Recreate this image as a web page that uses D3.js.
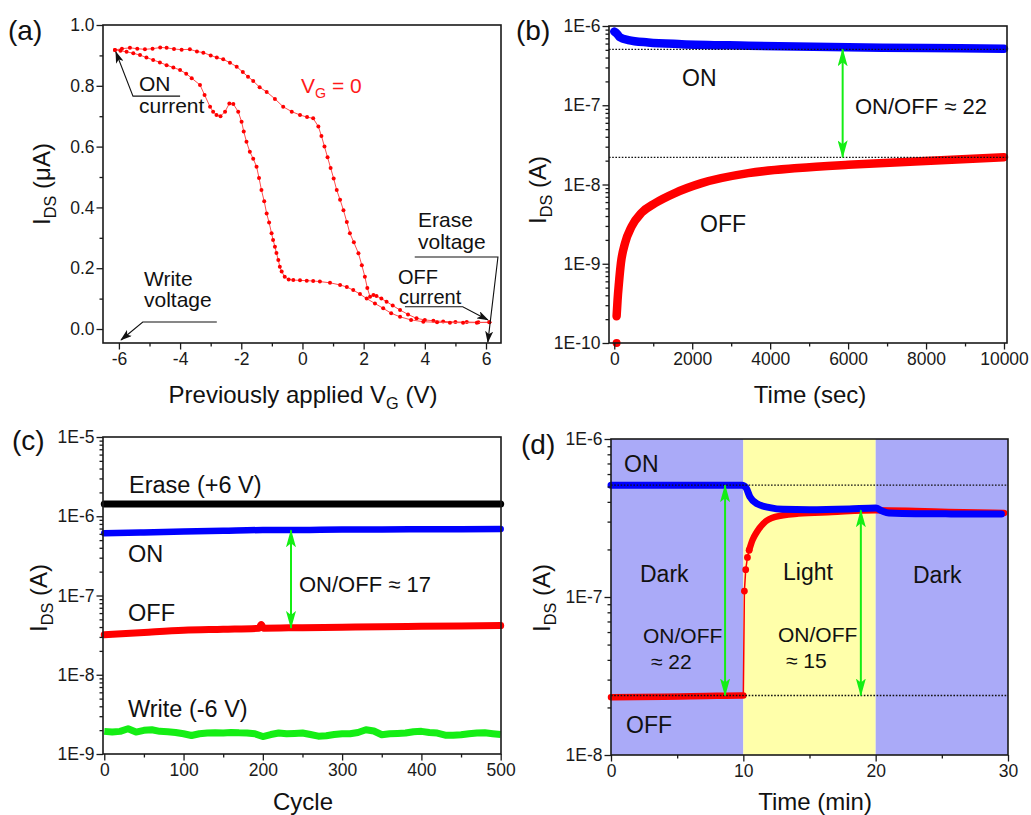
<!DOCTYPE html>
<html>
<head>
<meta charset="utf-8">
<script src="https://cdn.jsdelivr.net/npm/d3@7"></script>
<style>
  body { margin: 0; background: #fff; }
  svg text { font-family: "Liberation Sans", Arial, Helvetica, sans-serif; }
</style>
</head>
<body>
<div id="chart"></div>
<script>
// ---------- (a) hysteresis: previously applied V_G (V) vs I_DS (uA) ----------
const upV = [-6.13, -5.9, -5.64, -5.4, -5.15, -4.9, -4.65, -4.44, -4.2, -3.95, -3.68, -3.45, -3.24, -3.0, -2.8,
  -2.59, -2.37, -2.15, -1.95, -1.78, -1.61, -1.4, -1.17, -0.9, -0.63, -0.35, -0.08, 0.15, 0.35, 0.52, 0.62,
  0.72, 0.82, 0.92, 1.02, 1.12, 1.23, 1.34, 1.45, 1.55, 1.68, 1.83, 1.94, 2.04, 2.12, 2.21, 2.32, 2.42, 2.58,
  2.75, 2.95, 3.19, 3.45, 3.73, 4.0, 4.28, 4.6, 5.0, 5.37, 5.75, 6.11];
const upI = [0.918, 0.922, 0.925, 0.922, 0.920, 0.922, 0.926, 0.925, 0.921, 0.919, 0.920, 0.913, 0.909, 0.900, 0.893,
  0.887, 0.876, 0.863, 0.845, 0.830, 0.816, 0.795, 0.780, 0.757, 0.731, 0.715, 0.704, 0.697, 0.693, 0.666, 0.635,
  0.600, 0.565, 0.530, 0.495, 0.457, 0.425, 0.391, 0.352, 0.315, 0.285, 0.249, 0.210, 0.172, 0.135, 0.106, 0.112,
  0.109, 0.100, 0.090, 0.077, 0.0625, 0.048, 0.035, 0.030, 0.027, 0.025, 0.023, 0.023, 0.022, 0.022];
const downV = [6.11, 5.7, 5.25, 4.82, 4.4, 3.95, 3.55, 3.19, 2.9, 2.64, 2.37, 2.1, 1.88, 1.66, 1.45, 1.23, 0.9,
  0.57, 0.35, 0.14, -0.08, -0.3, -0.45, -0.58, -0.68, -0.74, -0.79, -0.85, -0.9, -0.96, -1.01, -1.09, -1.17,
  -1.25, -1.34, -1.42, -1.5, -1.61, -1.72, -1.83, -1.92, -1.99, -2.1, -2.26, -2.39, -2.53, -2.68, -2.81, -2.92,
  -3.02, -3.2, -3.35, -3.62, -3.8, -4.0, -4.22, -4.44, -4.66, -4.88, -5.1, -5.31, -5.53, -5.75, -5.95, -6.13];
const downI = [0.022, 0.021, 0.021, 0.021, 0.022, 0.024, 0.030, 0.040, 0.052, 0.068, 0.084, 0.100, 0.115, 0.128,
  0.138, 0.145, 0.152, 0.156, 0.158, 0.159, 0.160, 0.161, 0.163, 0.172, 0.189, 0.205, 0.227, 0.250, 0.271, 0.293,
  0.315, 0.350, 0.380, 0.420, 0.457, 0.497, 0.534, 0.560, 0.583, 0.616, 0.650, 0.682, 0.715, 0.740, 0.742, 0.715,
  0.700, 0.704, 0.715, 0.731, 0.770, 0.803, 0.825, 0.840, 0.852, 0.860, 0.868, 0.877, 0.885, 0.893, 0.901, 0.907,
  0.912, 0.915, 0.918];

// ---------- (b) retention: time (s) vs I_DS (A) ----------
const bOnTime = [0, 60, 145, 360, 870, 1730, 3440, 6000, 8000, 10000];
const bOnI = [8.5e-7, 8.1e-7, 7.2e-7, 6.65e-7, 6.2e-7, 5.9e-7, 5.65e-7, 5.38e-7, 5.27e-7, 5.18e-7];
const bOffTime = [60, 85, 120, 171, 274, 445, 700, 1044, 1557, 2241, 3439, 4722, 6005, 7716, 10000];
const bOffI = [2.17e-10, 3.5e-10, 5.7e-10, 1.02e-9, 1.8e-9, 2.95e-9, 4.4e-9, 5.8e-9, 7.8e-9, 1.04e-8, 1.39e-8,
  1.61e-8, 1.77e-8, 1.95e-8, 2.21e-8];
const bOffFirst = [60, 1e-10];
const bLevels = [5.08e-7, 2.2e-8];
const bArrowTime = 5860;

// ---------- (c) endurance: cycle vs I_DS (A) ----------
const cEraseCycle = [0, 500];
const cEraseI = [1.43e-6, 1.43e-6];
const cOnCycle = [0, 50, 100, 150, 200, 250, 300, 350, 400, 450, 500];
const cOnI = [6.1e-7, 6.25e-7, 6.4e-7, 6.55e-7, 6.7e-7, 6.72e-7, 6.8e-7, 6.8e-7, 6.85e-7, 6.87e-7, 6.9e-7];
const cOffCycle = [0, 50, 100, 150, 195, 198, 201, 250, 300, 350, 400, 450, 500];
const cOffI = [3.2e-8, 3.42e-8, 3.64e-8, 3.75e-8, 3.86e-8, 4.3e-8, 3.87e-8, 3.93e-8, 3.98e-8, 4.03e-8, 4.09e-8,
  4.13e-8, 4.17e-8];
const cWriteCycle = [0, 10, 20, 30, 40, 50, 60, 70, 80, 90, 100, 110, 120, 130, 140, 150, 160, 170, 180, 190, 200,
  210, 220, 230, 240, 250, 260, 270, 280, 290, 300, 310, 320, 330, 340, 350, 360, 370, 380, 390, 400, 410, 420,
  430, 440, 450, 460, 470, 480, 490, 500];
const cWriteI = [1.93, 1.89, 1.93, 2.08, 1.89, 1.99, 2.02, 1.93, 1.91, 1.87, 1.80, 1.71, 1.80, 1.84, 1.85, 1.84,
  1.87, 1.85, 1.84, 1.80, 1.66, 1.76, 1.84, 1.80, 1.82, 1.84, 1.76, 1.68, 1.70, 1.76, 1.80, 1.80, 1.87, 2.02,
  1.95, 1.75, 1.80, 1.82, 1.84, 1.91, 1.93, 1.87, 1.84, 1.73, 1.73, 1.75, 1.80, 1.84, 1.85, 1.80, 1.76]; // x 1e-9
const cArrow = [235.5, 6.65e-7, 3.9e-8];

// ---------- (d) dark / light: time (min) vs I_DS (A) ----------
const dOnTime = [0, 2, 4, 6, 8, 9.9, 10.2, 10.5, 11, 12, 13, 15, 18, 20, 20.5, 21, 23, 25, 27, 29.5];
const dOnI = [5.09e-7, 5.09e-7, 5.09e-7, 5.1e-7, 5.1e-7, 5.1e-7, 4.92e-7, 4.3e-7, 3.9e-7, 3.68e-7, 3.59e-7,
  3.57e-7, 3.61e-7, 3.66e-7, 3.5e-7, 3.4e-7, 3.36e-7, 3.36e-7, 3.35e-7, 3.35e-7];
const dOffTime = [0, 2, 4, 6, 8, 9.9, 10.0, 10.08, 10.18, 10.31, 10.44, 10.69, 11.02, 11.52, 12.4, 14.17, 16.7,
  19.97, 23, 25.5, 29.7];
const dOffI = [2.32e-8, 2.33e-8, 2.34e-8, 2.35e-8, 2.37e-8, 2.38e-8, 2.38e-8, 1.09e-7, 1.49e-7, 1.78e-7, 1.98e-7,
  2.29e-7, 2.58e-7, 2.92e-7, 3.21e-7, 3.37e-7, 3.45e-7, 3.54e-7, 3.5e-7, 3.45e-7, 3.4e-7];
const dBandStart = [0, 10, 20];
const dBandEnd = [10, 20, 30];
const dBandKind = ["Dark", "Light", "Dark"];
const dLevels = [5.1e-7, 2.38e-8];
const dArrows = [[8.62, 5.1e-7, 2.38e-8], [18.88, 3.54e-7, 2.38e-8]];

// ---------- layout ----------
const svg = d3.select("#chart").append("svg")
    .attr("width", 1031)
    .attr("height", 815);

const GREEN = "#14ee14";
const defs = svg.append("defs");
defs.append("marker")
    .attr("id", "gHead").attr("viewBox", "0 0 18 10").attr("refX", 17).attr("refY", 5)
    .attr("markerWidth", 18).attr("markerHeight", 10).attr("markerUnits", "userSpaceOnUse")
    .attr("orient", "auto-start-reverse")
    .append("path").attr("d", "M0,0 L18,5 L0,10 L4,5 Z").attr("fill", GREEN);
defs.append("marker")
    .attr("id", "kHead").attr("viewBox", "0 0 12 8").attr("refX", 11).attr("refY", 4)
    .attr("markerWidth", 12).attr("markerHeight", 8).attr("markerUnits", "userSpaceOnUse")
    .attr("orient", "auto")
    .append("path").attr("d", "M0,0 L12,4 L0,8 L3,4 Z").attr("fill", "#111");

const boxA = { l: 103, r: 501, t: 25, b: 343 };
const boxB = { l: 609, r: 1007, t: 26, b: 343 };
const boxC = { l: 103, r: 501, t: 437, b: 754 };
const boxD = { l: 611, r: 1008, t: 439, b: 755 };

const isDecade = v => Math.abs(Math.log10(v) - Math.round(Math.log10(v))) < 1e-6;
const fmtE = v => "1E" + Math.round(Math.log10(v));

// draws ticks + frame for one panel
function drawAxes(box, x, y, xMajor, xMinor, yMajor, yMinor, xFmt, yFmt) {
    const g = svg.append("g");
    const gx = g.append("g").attr("transform", `translate(0,${box.b})`);
    gx.append("g").call(d3.axisBottom(x).tickValues(xMinor).tickSize(3.5).tickFormat(""));
    gx.append("g").call(d3.axisBottom(x).tickValues(xMajor).tickSize(6.5).tickPadding(3).tickFormat(xFmt));
    const gy = g.append("g").attr("transform", `translate(${box.l},0)`);
    gy.append("g").call(d3.axisLeft(y).tickValues(yMinor).tickSize(3.5).tickFormat(""));
    gy.append("g").call(d3.axisLeft(y).tickValues(yMajor).tickSize(6.5).tickPadding(2).tickFormat(yFmt));
    g.selectAll(".domain").remove();
    g.selectAll("g").attr("font-size", 17.5).attr("color", "#1a1a1a");
    g.selectAll(".tick line").attr("stroke-width", 1.3);
    g.append("rect")
        .attr("x", box.l).attr("y", box.t)
        .attr("width", box.r - box.l).attr("height", box.b - box.t)
        .attr("fill", "none").attr("stroke", "#1a1a1a").attr("stroke-width", 1.6);
}

function label(x, y, str, size, color, anchor) {
    return svg.append("text")
        .attr("x", x).attr("y", y)
        .attr("font-size", size)
        .attr("fill", color || "#111")
        .attr("text-anchor", anchor || "start")
        .text(str);
}

// text with a subscript part: parts = [[text, isSub], ...]
function subText(parent, parts, size) {
    const t = parent.append("text").attr("font-size", size).attr("fill", "#111");
    let shifted = false;
    parts.forEach(([s, sub]) => {
        const sp = t.append("tspan").text(s);
        if (sub && !shifted) { sp.attr("font-size", size * 0.68).attr("dy", size * 0.25); shifted = true; }
        else if (!sub && shifted) { sp.attr("dy", -size * 0.25); shifted = false; }
    });
    return t;
}

function yTitle(cx, cy, unit) {
    const g = svg.append("g").attr("transform", `translate(${cx},${cy}) rotate(-90)`);
    subText(g, [["I", false], ["DS", true], [" (" + unit + ")", false]], 24)
        .attr("text-anchor", "middle").attr("dy", "0.35em");
}

function xTitle(cx, y, parts) {
    subText(svg.append("g").attr("transform", `translate(${cx},${y})`), parts, 24)
        .attr("text-anchor", "middle");
}

function greenArrow(x, y, xv, v1, v2) {
    svg.append("line")
        .attr("x1", x(xv)).attr("x2", x(xv))
        .attr("y1", y(v1)).attr("y2", y(v2))
        .attr("stroke", GREEN).attr("stroke-width", 2)
        .attr("marker-start", "url(#gHead)").attr("marker-end", "url(#gHead)");
}

function dotted(box, y, v) {
    svg.append("line")
        .attr("x1", box.l).attr("x2", box.r)
        .attr("y1", y(v)).attr("y2", y(v))
        .attr("stroke", "#111").attr("stroke-width", 1.3)
        .attr("stroke-dasharray", "1.6,1.6");
}

function band(x, y, xs, vs, color, width) {
    svg.append("path")
        .datum(xs.map((d, i) => [d, vs[i]]))
        .attr("d", d3.line().x(d => x(d[0])).y(d => y(d[1])).curve(d3.curveMonotoneX))
        .attr("fill", "none").attr("stroke", color)
        .attr("stroke-width", width).attr("stroke-linecap", "round").attr("stroke-linejoin", "round");
}

// ================= (a) =================
const xA = d3.scaleLinear().domain([-6.52, 6.49]).range([boxA.l, boxA.r]);
const yA = d3.scaleLinear().domain([-0.046, 1.0]).range([boxA.b, boxA.t]);

[[upV, upI], [downV, downI]].forEach(([vs, is]) => {
    const pts = vs.map((v, i) => [v, is[i]]);
    svg.append("path").datum(pts)
        .attr("d", d3.line().x(d => xA(d[0])).y(d => yA(d[1])))
        .attr("fill", "none").attr("stroke", "#ff4d4d").attr("stroke-width", 1);
    svg.append("g").selectAll("circle").data(pts).join("circle")
        .attr("cx", d => xA(d[0])).attr("cy", d => yA(d[1])).attr("r", 2)
        .attr("fill", "#ff0000");
});

drawAxes(boxA, xA, yA, [-6, -4, -2, 0, 2, 4, 6], [-5, -3, -1, 1, 3, 5],
    [0, 0.2, 0.4, 0.6, 0.8, 1.0], [0.1, 0.3, 0.5, 0.7, 0.9], d => String(d), d3.format(".1f"));

// annotation arrows in (a)
const annLine = d3.line().x(d => xA(d[0])).y(d => yA(d[1]));
[
    [[-4.0, 0.766], [-5.54, 0.766], [-6.1, 0.911]],
    [[-2.8, 0.023], [-5.22, 0.023], [-5.93, -0.036]],
    [[3.67, 0.237], [6.39, 0.237], [6.06, -0.043]],
    [[3.35, 0.073], [5.24, 0.073], [6.06, 0.03]]
].forEach(p => {
    svg.append("path").attr("d", annLine(p))
        .attr("fill", "none").attr("stroke", "#111").attr("stroke-width", 1.1)
        .attr("marker-end", "url(#kHead)");
});

label(139, 91, "ON", 21);
label(139, 113, "current", 21);
label(144, 286, "Write", 21);
label(144, 307, "voltage", 21);
label(418, 227, "Erase", 21);
label(418, 249, "voltage", 21);
label(398, 284, "OFF", 20);
label(399, 304, "current", 20);
subText(svg.append("g").attr("transform", "translate(301,93)"),
    [["V", false], ["G", true], [" = 0", false]], 21).attr("fill", "#ff1a1a");

yTitle(42, 184, "\u03bcA");
xTitle(303, 403, [["Previously applied V", false], ["G", true], [" (V)", false]]);
label(8, 40, "(a)", 28);

// ================= (b) =================
const xB = d3.scaleLinear().domain([-135, 10077]).range([boxB.l, boxB.r]);
const yB = d3.scaleLog().domain([1e-10, 1e-6]).range([boxB.b, boxB.t]);

band(xB, yB, bOnTime, bOnI, "#0000ff", 8.5);
band(xB, yB, bOffTime, bOffI, "#ff0000", 8.5);
svg.append("circle").attr("cx", xB(bOffFirst[0])).attr("cy", yB(bOffFirst[1])).attr("r", 4).attr("fill", "#ff0000");
bLevels.forEach(v => dotted(boxB, yB, v));
greenArrow(xB, yB, bArrowTime, bLevels[0], bLevels[1]);

drawAxes(boxB, xB, yB, [0, 2000, 4000, 6000, 8000, 10000], [1000, 3000, 5000, 7000, 9000],
    yB.ticks().filter(isDecade), yB.ticks().filter(v => !isDecade(v)), d => String(d), fmtE);

label(682, 86, "ON", 23);
label(700, 232, "OFF", 23);
label(855, 114, "ON/OFF \u2248 22", 22);
yTitle(538, 190, "A");
xTitle(810, 403, [["Time (sec)", false]]);
label(516, 40, "(b)", 28);

// ================= (c) =================
const xC = d3.scaleLinear().domain([-1.6, 500.4]).range([boxC.l, boxC.r]);
const yC = d3.scaleLog().domain([1e-9, 1e-5]).range([boxC.b, boxC.t]);

band(xC, yC, cEraseCycle, cEraseI, "#000000", 7);
band(xC, yC, cOnCycle, cOnI, "#0000ff", 6.5);
band(xC, yC, cOffCycle, cOffI, "#ff0000", 7);
svg.append("path")
    .datum(cWriteCycle.map((d, i) => [d, cWriteI[i] * 1e-9]))
    .attr("d", d3.line().x(d => xC(d[0])).y(d => yC(d[1])))
    .attr("fill", "none").attr("stroke", "#14ee14").attr("stroke-width", 7).attr("stroke-linejoin", "round");
greenArrow(xC, yC, cArrow[0], cArrow[1], cArrow[2]);

drawAxes(boxC, xC, yC, [0, 100, 200, 300, 400, 500], [50, 150, 250, 350, 450],
    yC.ticks().filter(isDecade), yC.ticks().filter(v => !isDecade(v)), d => String(d), fmtE);

label(129, 493, "Erase (+6 V)", 23.5);
label(128, 562, "ON", 23.5);
label(128, 621, "OFF", 23.5);
label(299, 592, "ON/OFF \u2248 17", 22);
label(128, 717, "Write (-6 V)", 23.5);
yTitle(39, 598, "A");
xTitle(303, 810, [["Cycle", false]]);
label(12, 450, "(c)", 28);

// ================= (d) =================
const xD = d3.scaleLinear().domain([0, 30]).range([boxD.l, boxD.r]);
const yD = d3.scaleLog().domain([1e-8, 1e-6]).range([boxD.b, boxD.t]);

svg.append("g").selectAll("rect").data(dBandStart).join("rect")
    .attr("x", d => xD(d))
    .attr("width", (d, i) => xD(dBandEnd[i]) - xD(d))
    .attr("y", boxD.t).attr("height", boxD.b - boxD.t)
    .attr("fill", (d, i) => dBandKind[i] === "Light" ? "#ffffaa" : "#aaaaf8");

// red: thin trace, dense bands before/after the jump, sparse dots during it
const offPts = dOffTime.map((d, i) => [d, dOffI[i]]);
svg.append("path").datum(offPts)
    .attr("d", d3.line().x(d => xD(d[0])).y(d => yD(d[1])))
    .attr("fill", "none").attr("stroke", "#ff0000").attr("stroke-width", 1.5);
const jumpIdx = dOffTime.indexOf(10.0);
band(xD, yD, dOffTime.slice(0, jumpIdx + 1), dOffI.slice(0, jumpIdx + 1), "#ff0000", 6.5);
band(xD, yD, dOffTime.slice(jumpIdx + 4), dOffI.slice(jumpIdx + 4), "#ff0000", 6.5);
svg.append("g").selectAll("circle").data(offPts.slice(jumpIdx + 1, jumpIdx + 5)).join("circle")
    .attr("cx", d => xD(d[0])).attr("cy", d => yD(d[1])).attr("r", 3.4).attr("fill", "#ff0000");
band(xD, yD, dOnTime, dOnI, "#0000ff", 7);

dLevels.forEach(v => dotted(boxD, yD, v));
dArrows.forEach(a => greenArrow(xD, yD, a[0], a[1], a[2]));

drawAxes(boxD, xD, yD, [0, 10, 20, 30], [5, 15, 25],
    yD.ticks().filter(isDecade), yD.ticks().filter(v => !isDecade(v)), d => String(d), fmtE);

label(624, 472, "ON", 23);
label(626, 733, "OFF", 23);
label(640, 582, "Dark", 23);
label(783, 580, "Light", 23);
label(913, 583, "Dark", 23);
label(643, 643, "ON/OFF", 21);
label(651, 669, "\u2248 22", 21);
label(778, 642, "ON/OFF", 21);
label(786, 668, "\u2248 15", 21);
yTitle(542, 598, "A");
xTitle(815, 810, [["Time (min)", false]]);
label(521, 454, "(d)", 28);
</script>
</body>
</html>
